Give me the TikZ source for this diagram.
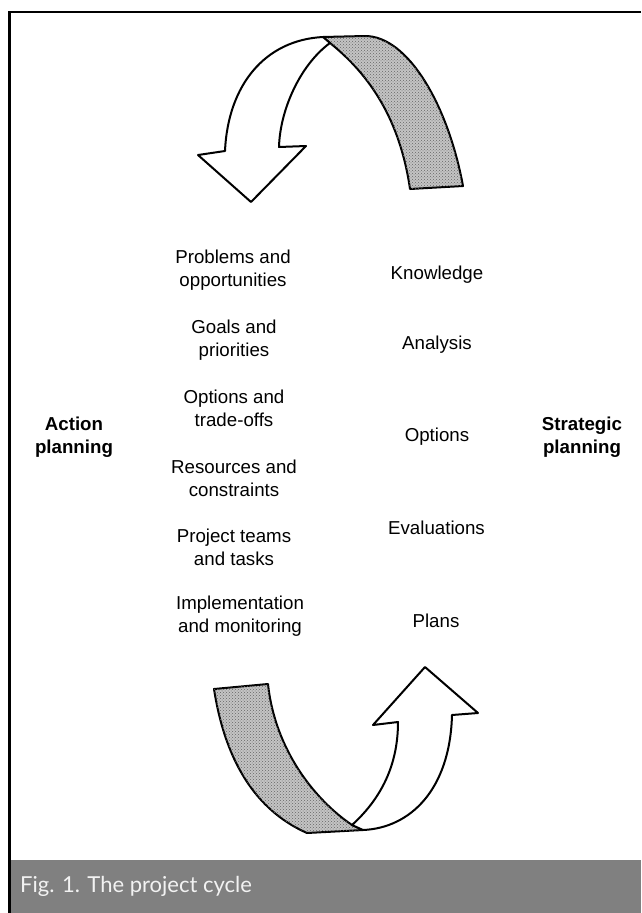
\documentclass[tikz,border=0pt]{standalone}
\usepackage{fontspec}
\usetikzlibrary{patterns}
\setmainfont{Liberation Sans}
\newfontfamily\capfont{Lato}
\definecolor{capbar}{HTML}{808080}
\definecolor{captext}{HTML}{F2F2F2}
\definecolor{ribbon}{HTML}{C4C4C4}
\begin{document}
\begin{tikzpicture}[x=1pt,y=-1pt,
  lbl/.style={align=center,inner sep=0pt,font=\fontsize{18.7}{23}\selectfont},
  hdr/.style={lbl,font=\fontsize{18.7}{23}\selectfont\bfseries},
  band/.style={draw=black,line width=2pt,line join=round},
  backside/.style={band,fill=ribbon,postaction={pattern=crosshatch dots,pattern color=black!60}},
  frontside/.style={band,fill=white}]
\useasboundingbox (0,0) rectangle (641,913);

% frame and caption bar
\fill[capbar] (10,860) rectangle (641,913);
\draw[line width=2.2pt] (641,12) -- (9.5,12) -- (9.5,913);
\node[anchor=west,inner sep=0pt,text=captext,font=\capfont\fontsize{22}{25}\selectfont] (cap) at (20,886) {Fig. 1. The project cycle};

% upper ribbon arrow: stippled back side, then front side with head
\draw[backside] (323,37) -- (365,36) .. controls (408,36) and (448,105) .. (463,186)
  -- (410,189) .. controls (400,120) and (370,75) .. (330,43) -- cycle;
\draw[frontside] (198,155) -- (225,151)
  .. controls (228,85) and (265,40) .. (323,37)
  -- (330,43)
  .. controls (300,65) and (280,110) .. (279,147)
  -- (306,146) -- (251,202) -- cycle;

% lower ribbon arrow
\draw[backside] (214,689) -- (268,684)
  .. controls (275,750) and (315,800) .. (352,825)
  -- (363,830) -- (307,833)
  .. controls (255,810) and (225,760) .. (214,689) -- cycle;
\draw[frontside] (352,825) .. controls (385,795) and (398,760) .. (398,722)
  -- (373,725) -- (425,667) -- (478,713) -- (452,715)
  .. controls (450,790) and (410,828) .. (363,830) -- cycle;

% side headings
\node[hdr] (act) at (74,437) {Action\\planning};
\node[hdr] (strat) at (582,437.5) {Strategic\\planning};

% action planning steps
\node[lbl] (prob) at (233,270.5) {Problems and\\opportunities};
\node[lbl] (goal) at (234,340.5) {Goals and\\priorities};
\node[lbl] (opt) at (234,408.5) {Options and\\trade-offs};
\node[lbl] (res) at (234,478) {Resources and\\constraints};
\node[lbl] (team) at (234,547) {Project teams\\and tasks};
\node[lbl] (impl) at (240,616.5) {Implementation\\and monitoring};

% strategic planning steps
\node[lbl] (know) at (437,275) {Knowledge};
\node[lbl] (anal) at (437,345) {Analysis};
\node[lbl] (opts) at (437,437) {Options};
\node[lbl] (eval) at (436.5,528) {Evaluations};
\node[lbl] (plan) at (436,621) {Plans};
\end{tikzpicture}
\end{document}
